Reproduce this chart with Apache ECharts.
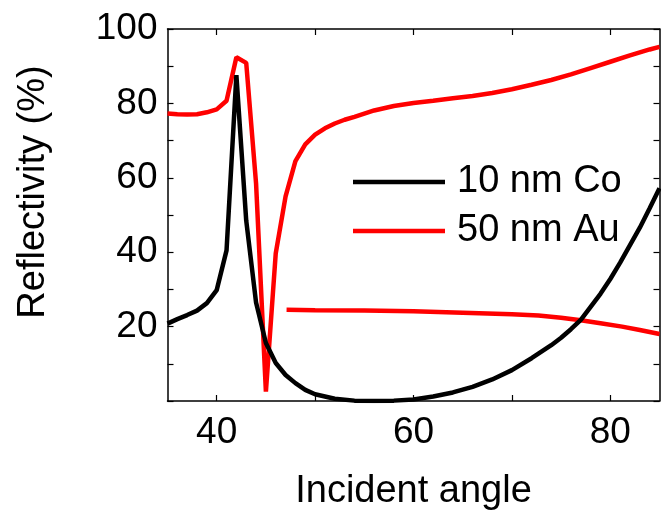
<!DOCTYPE html>
<html>
<head>
<meta charset="utf-8">
<script src="https://cdn.jsdelivr.net/npm/echarts@6/dist/echarts.min.js"></script>
<style>
  html, body { margin: 0; padding: 0; background: #fff; }
  #chart { width: 661px; height: 511px; }
</style>
</head>
<body>
<div id="chart"></div>
<script>
// Incident angle (degrees) and reflectivity (%) for the two films
const coAngle = [35, 36, 37, 38, 39, 40, 41, 42, 43, 44, 45, 46, 47, 48, 49, 50, 52, 54, 56, 58, 60, 62, 64, 66, 68, 70, 72, 74, 75, 76, 77, 78, 79, 80, 81, 82, 83, 84, 85];
const coRefl  = [20.8, 22.0, 23.1, 24.3, 26.3, 29.8, 40.5, 87.6, 48.5, 26.5, 15.6, 10.2, 7.0, 4.8, 3.0, 1.8, 0.6, 0.1, 0.0, 0.1, 0.4, 1.2, 2.3, 3.8, 5.8, 8.3, 11.5, 15.0, 17.0, 19.3, 21.8, 25.3, 28.8, 32.8, 37.2, 41.9, 46.6, 51.8, 57.2];

const auAngle = [35, 36, 37, 38, 39, 40, 41, 42, 43, 44, 45, 46, 47, 48, 49, 50, 51, 52, 53, 54, 56, 58, 60, 62, 64, 66, 68, 70, 72, 74, 76, 78, 80, 82, 84, 85];
const auRefl  = [77.3, 77.1, 77.0, 77.1, 77.6, 78.4, 80.7, 92.4, 90.9, 58.5, 2.5, 39.7, 55.0, 64.5, 69.0, 71.6, 73.3, 74.6, 75.6, 76.4, 78.1, 79.3, 80.1, 80.7, 81.4, 82.0, 82.8, 83.8, 85.0, 86.3, 87.8, 89.5, 91.2, 92.9, 94.5, 95.2];

// Second Au branch (flat, slowly decreasing)
const auBranchAngle = [47.1, 50, 55, 60, 65, 70, 72.7, 75, 77, 79, 81.2, 83, 85];
const auBranchRefl  = [24.5, 24.4, 24.3, 24.1, 23.7, 23.3, 23.0, 22.4, 21.7, 20.9, 20.0, 19.1, 18.0];

const xTicks = [40, 50, 60, 70, 80];
const xLabels = [40, 60, 80];
const yLabels = [20, 40, 60, 80, 100];

const FONT = '"Liberation Sans", Arial, sans-serif';
const pair = (xs, ys) => xs.map((x, i) => [x, ys[i]]);

const chart = echarts.init(document.getElementById('chart'), null, { renderer: 'canvas' });

const axisLine = { show: true, onZero: false, lineStyle: { color: '#000', width: 1.5 } };
const tick = { show: true, inside: true, length: 6, lineStyle: { color: '#000', width: 1.2 } };

chart.setOption({
  animation: false,
  backgroundColor: '#fff',
  textStyle: { fontFamily: FONT },
  grid: { left: 167.5, right: 1.5, top: 29, bottom: 110, containLabel: false, outerBoundsMode: 'none' },
  legend: {
    data: [
      { name: '10 nm Co', icon: 'rect', itemStyle: { color: '#000' } },
      { name: '50 nm Au', icon: 'rect', itemStyle: { color: '#ff0000' } }
    ],
    orient: 'vertical',
    left: 348,
    top: 158,
    itemWidth: 92,
    itemHeight: 4.5,
    itemGap: 11,
    selectedMode: false,
    textStyle: { fontFamily: FONT, fontSize: 38, color: '#000', lineHeight: 38, padding: [0, 0, 0, 7] }
  },
  xAxis: [{
    type: 'value', min: 35, max: 85, position: 'bottom',
    name: 'Incident angle', nameLocation: 'middle', nameGap: 72,
    nameTextStyle: { fontFamily: FONT, fontSize: 38, color: '#000' },
    axisLine: axisLine,
    axisTick: Object.assign({ customValues: xTicks }, tick),
    axisLabel: { customValues: xLabels, fontFamily: FONT, fontSize: 37, color: '#000', margin: 13 },
    splitLine: { show: false }
  }, {
    type: 'value', min: 35, max: 85, position: 'top',
    axisLine: axisLine,
    axisTick: Object.assign({ customValues: xTicks }, tick),
    axisLabel: { show: false },
    splitLine: { show: false }
  }],
  yAxis: [{
    type: 'value', min: 0, max: 100, interval: 10, position: 'left',
    name: 'Reflectivity (%)', nameLocation: 'middle', nameGap: 115,
    nameTextStyle: { fontFamily: FONT, fontSize: 38, color: '#000', padding: [0, 0, 0, 46] },
    axisLine: axisLine,
    axisTick: tick,
    axisLabel: {
      fontFamily: FONT, fontSize: 37, color: '#000', margin: 10,
      formatter: v => (yLabels.indexOf(v) >= 0 ? String(v) : '')
    },
    splitLine: { show: false }
  }, {
    type: 'value', min: 0, max: 100, interval: 10, position: 'right',
    axisLine: axisLine,
    axisTick: tick,
    axisLabel: { show: false },
    splitLine: { show: false }
  }],
  series: [{
    name: '10 nm Co', type: 'line', symbol: 'none', smooth: false,
    data: pair(coAngle, coRefl),
    lineStyle: { color: '#000', width: 4.5 }, itemStyle: { color: '#000' }, z: 3
  }, {
    name: '50 nm Au', type: 'line', symbol: 'none', smooth: false,
    data: pair(auAngle, auRefl),
    lineStyle: { color: '#ff0000', width: 4.5 }, itemStyle: { color: '#ff0000' }, z: 2
  }, {
    name: '50 nm Au', type: 'line', symbol: 'none', smooth: false,
    data: pair(auBranchAngle, auBranchRefl),
    lineStyle: { color: '#ff0000', width: 4.5 }, itemStyle: { color: '#ff0000' }, z: 2
  }]
});
</script>
</body>
</html>
